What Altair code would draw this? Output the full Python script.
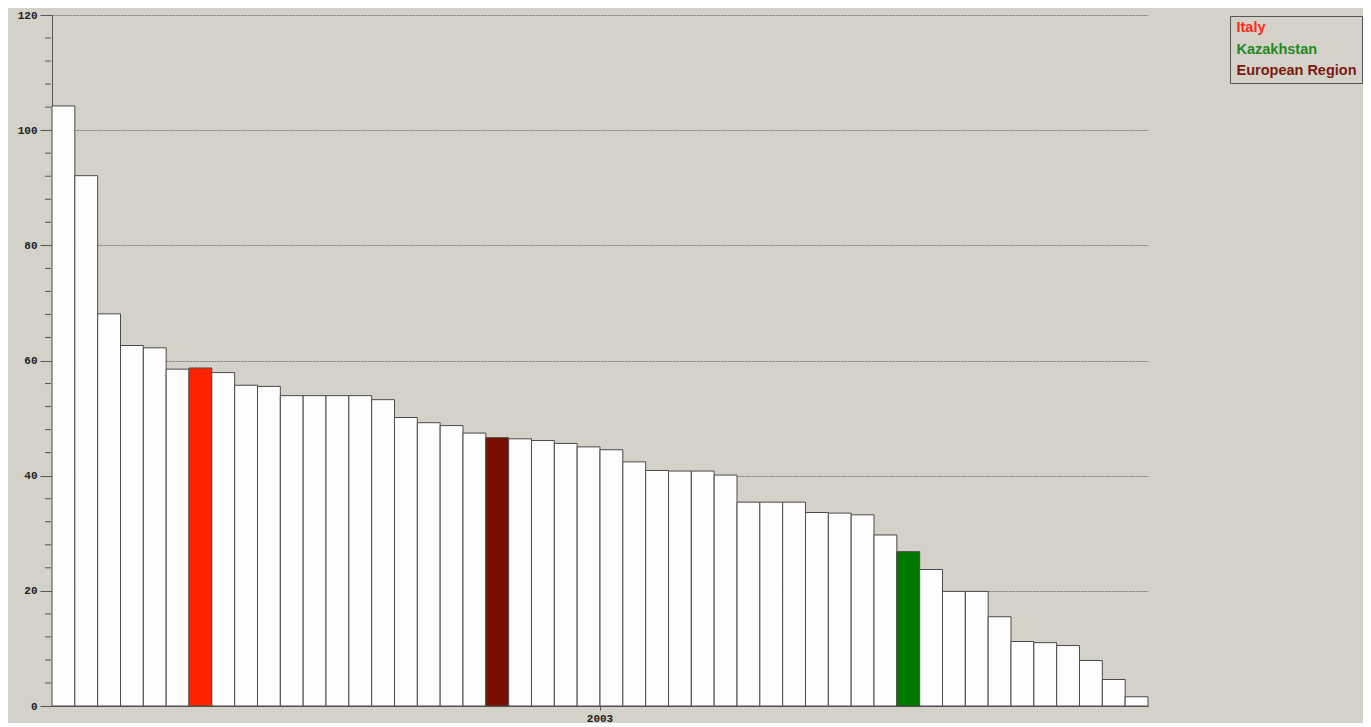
import altair as alt
import pandas as pd

# ---- data ----
values = [104.2, 92.1, 68.1, 62.6, 62.2, 58.5, 58.7, 57.9, 55.7, 55.5,
          53.9, 53.9, 53.9, 53.9, 53.2, 50.1, 49.2, 48.7, 47.4, 46.6,
          46.4, 46.1, 45.6, 45.0, 44.5, 42.4, 40.9, 40.8, 40.8, 40.1,
          35.4, 35.4, 35.4, 33.6, 33.5, 33.2, 29.7, 26.8, 23.7, 19.9,
          19.9, 15.5, 11.2, 11.0, 10.5, 7.9, 4.6, 1.6]
positions = list(range(1, len(values) + 1))
highlight_pos = [7, 20, 38]
highlight_names = ["Italy", "European Region", "Kazakhstan"]
year_label = "2003"

major_ticks = [0, 20, 40, 60, 80, 100, 120]
minor_ticks = [4, 8, 12, 16, 24, 28, 32, 36, 44, 48, 52, 56, 64, 68, 72, 76,
               84, 88, 92, 96, 104, 108, 112, 116]

legend_items = ["Italy", "Kazakhstan", "European Region"]
group_domain = ["Italy", "Kazakhstan", "European Region", "Other"]
group_colors = ["#ff2400", "#007800", "#7a0e00", "#fdfdfd"]

# ---- tables ----
hl = dict(zip(highlight_pos, highlight_names))
df = pd.DataFrame({
    "year": [year_label] * len(values),
    "pos": positions,
    "value": values,
    "group": [hl.get(p, "Other") for p in positions],
})
minor_df = pd.DataFrame({"value": minor_ticks})

yscale = alt.Scale(domain=[0, 120], nice=False, zero=True)
yaxis = alt.Axis(values=major_ticks, grid=True, gridDash=[2, 1],
                 gridColor="#7a7870", gridWidth=1, tickSize=12,
                 labelPadding=3, domainColor="#555555", tickColor="#555555")

bars = alt.Chart(df).mark_bar(stroke="#4a4a4a", strokeWidth=1).encode(
    x=alt.X("year:N", title=None,
            scale=alt.Scale(paddingInner=0, paddingOuter=0),
            axis=alt.Axis(labelAngle=0, tickSize=4, labelPadding=2,
                          domainColor="#555555", tickColor="#555555")),
    xOffset=alt.XOffset("pos:O", scale=alt.Scale(paddingInner=0, paddingOuter=0)),
    y=alt.Y("value:Q", title=None, scale=yscale, axis=yaxis),
    color=alt.Color("group:N",
                    scale=alt.Scale(domain=group_domain, range=group_colors),
                    legend=alt.Legend(
                        values=legend_items, title=None, orient="none",
                        legendX=1178, legendY=1,
                        symbolSize=1, symbolStrokeWidth=0, symbolOpacity=0,
                        labelOffset=alt.ExprRef("-13"),
                        labelFont="Liberation Sans",
                        labelFontWeight="bold", labelFontSize=14.5,
                        labelColor=alt.ExprRef(
                            "datum.value == 'Italy' ? '#ff2a1a' : "
                            "(datum.value == 'Kazakhstan' ? '#1e8a1e' : '#7a1a10')"),
                        strokeColor="#555555", fillColor="#d4d1c8",
                        padding=5, rowPadding=6.5)),
)

minor = alt.Chart(minor_df).mark_rule(color="#555555", strokeWidth=1).encode(
    y=alt.Y("value:Q", title=None, scale=yscale, axis=yaxis),
    x=alt.value(-7),
    x2=alt.value(-1),
)

chart = alt.layer(bars, minor).properties(
    width=1096,
    height=691,
    autosize=alt.AutoSizeParams(type="none"),
    padding={"left": 44, "top": 7, "right": 215, "bottom": 17},
    background="#d4d1c8",
).configure_view(stroke=None).configure_axis(
    labelFont="Liberation Mono", labelFontWeight="bold", labelFontSize=11,
    labelColor="#222222",
)

chart.save("out.html", embed_options={"renderer": "svg", "actions": False})
